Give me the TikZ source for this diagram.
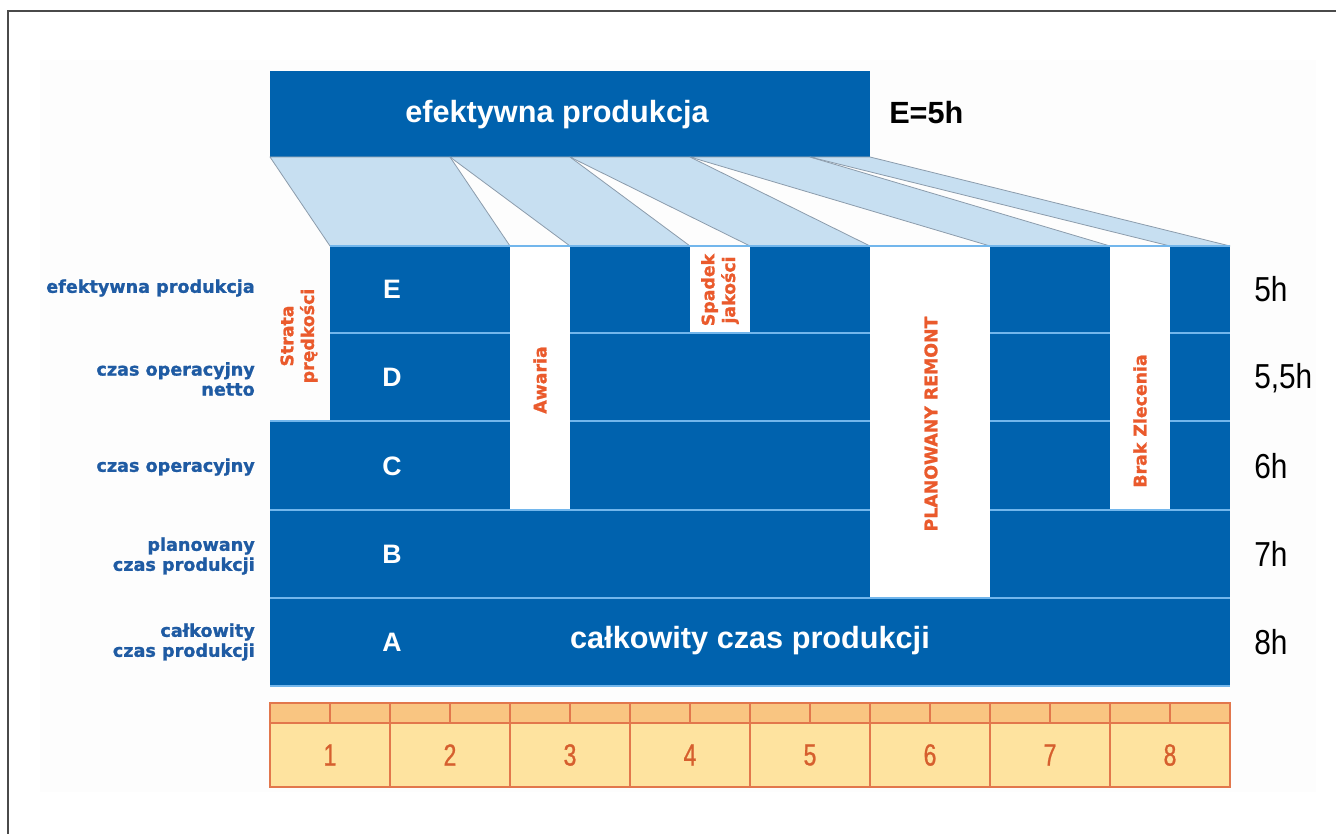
\documentclass[tikz,border=0pt]{standalone}
\usepackage{fontspec}
\setmainfont{Liberation Sans}
\newfontfamily\dejab[FakeBold=1.2]{DejaVu Sans Bold}
\newfontfamily\narrowf[FakeStretch=0.86]{Liberation Sans}
\newfontfamily\condf[FakeStretch=0.75,FakeBold=0.8]{Liberation Sans}
\definecolor{oeeblue}{HTML}{0062AE}
\definecolor{sepblue}{HTML}{72B6EC}
\definecolor{trap}{HTML}{C7DFF1}
\definecolor{trapedge}{HTML}{8C9CAC}
\definecolor{lblblue}{HTML}{1F5BA3}
\definecolor{lossred}{HTML}{EA5A2C}
\definecolor{rulertop}{HTML}{F9C581}
\definecolor{rulerbot}{HTML}{FEE39F}
\definecolor{rulerline}{HTML}{E2774C}
\definecolor{rulertext}{HTML}{D65F2E}
\definecolor{framegray}{HTML}{4A4A4A}
\definecolor{panel}{HTML}{FDFDFD}
\tikzset{
  blk/.style={fill=oeeblue, draw=none},
  gapw/.style={fill=white, draw=none},
  trapz/.style={fill=trap, draw=trapedge, line width=0.6pt, line join=round},
  sepline/.style={draw=sepblue, line width=1.3pt},
  rowlbl/.style={font=\dejab\fontsize{13.2}{15}\selectfont, text=lblblue, align=right, anchor=east, inner sep=0pt},
  loss/.style={font=\dejab\fontsize{13}{15.5}\selectfont, text=lossred, rotate=90, align=center, inner sep=0pt},
  letter/.style={font=\bfseries\fontsize{20}{24}\selectfont, text=white, inner sep=0pt},
  bigwhite/.style={font=\bfseries\fontsize{23}{27}\selectfont, text=white, inner sep=0pt},
  hours/.style={font=\narrowf\fontsize{26}{30}\selectfont, text=black, anchor=west, inner sep=0pt},
  rulernum/.style={font=\condf\fontsize{23}{27}\selectfont, text=rulertext, inner sep=0pt},
  rulerstroke/.style={draw=rulerline, line width=0.8pt}
}
\begin{document}
\begin{tikzpicture}[x=0.75pt,y=-0.75pt]
\useasboundingbox (0,0) rectangle (1336,834);
\fill[white] (0,0) rectangle (1336,834);
% faint background panel
\fill[panel] (40,60) rectangle (1316,792);
% frame
\draw[framegray, line width=1.3pt] (8,834) -- (8,11) -- (1336,11);

% top box
\fill[blk] (270,71) rectangle (870,157);
\node[bigwhite] (topText) at (557,115) {efektywna produkcja};
\node[font=\bfseries\fontsize{23}{27}\selectfont, anchor=west, inner sep=0pt] (topE) at (889,113) {E=5h};

% trapezoids
\filldraw[trapz] (270,157) -- (450,157) -- (510,246) -- (330,246) -- cycle;
\filldraw[trapz] (450,157) -- (570,157) -- (690,246) -- (570,246) -- cycle;
\filldraw[trapz] (570,157) -- (690,157) -- (870,246) -- (750,246) -- cycle;
\filldraw[trapz] (690,157) -- (810,157) -- (1110,246) -- (990,246) -- cycle;
\filldraw[trapz] (810,157) -- (870,157) -- (1230,246) -- (1170,246) -- cycle;

% rows
\fill[blk] (270,598) rectangle (1230,686);
\fill[blk] (270,510) rectangle (1230,598);
\fill[blk] (270,421) rectangle (1230,510);
\fill[blk] (330,333) rectangle (1230,421);
\fill[blk] (330,246) rectangle (1230,333);

% separators
\draw[sepline] (330,246) -- (1230,246);
\draw[sepline] (330,333) -- (1230,333);
\draw[sepline] (270,421) -- (1230,421);
\draw[sepline] (270,510) -- (1230,510);
\draw[sepline] (270,598) -- (1230,598);
\draw[sepline] (270,686) -- (1230,686);

% white loss gaps
\fill[gapw] (510,247) rectangle (570,509);
\fill[gapw] (690,247) rectangle (750,332);
\fill[gapw] (870,247) rectangle (990,597);
\fill[gapw] (1110,247) rectangle (1170,509);

% loss labels
\node[loss] (lossStrata) at (299,336) {Strata\\prędkości};
\node[loss] (lossAwaria) at (540,380) {Awaria};
\node[loss] (lossSpadek) at (720,290) {Spadek\\jakości};
\node[loss] (lossRemont) at (931,424) {PLANOWANY REMONT};
\node[loss] (lossBrak) at (1140,421) {Brak Zlecenia};

% row letters
\node[letter] (rowE) at (392,289) {E};
\node[letter] (rowD) at (392,377) {D};
\node[letter] (rowC) at (392,466) {C};
\node[letter] (rowB) at (392,554) {B};
\node[letter] (rowA) at (392,642) {A};
\node[bigwhite] (rowAtext) at (750,641) {całkowity czas produkcji};

% left labels
\node[rowlbl] (lE) at (255,288) {efektywna produkcja};
\node[rowlbl] (lD) at (255,379) {czas operacyjny\\netto};
\node[rowlbl] (lC) at (255,467) {czas operacyjny};
\node[rowlbl] (lB) at (255,556) {planowany\\czas produkcji};
\node[rowlbl] (lA) at (255,642) {całkowity\\czas produkcji};

% right hour labels
\node[hours] (hE) at (1254,289) {5h};
\node[hours] (hD) at (1254,378) {5,5h};
\node[hours] (hC) at (1254,466) {6h};
\node[hours] (hB) at (1254,554) {7h};
\node[hours] (hA) at (1254,642) {8h};

% ruler
\filldraw[fill=rulertop, rulerstroke] (270,703) rectangle (1230,723);
\filldraw[fill=rulerbot, rulerstroke] (270,723) rectangle (1230,787);
\foreach \i in {1,...,7} {\draw[rulerstroke] (270+120*\i,703) -- (270+120*\i,787);}
\foreach \i in {0,...,7} {\draw[rulerstroke] (330+120*\i,703) -- (330+120*\i,723);}
\foreach \i in {1,...,8} {\node[rulernum] (num\i) at (210+120*\i,755) {\i};}
\end{tikzpicture}
\end{document}
